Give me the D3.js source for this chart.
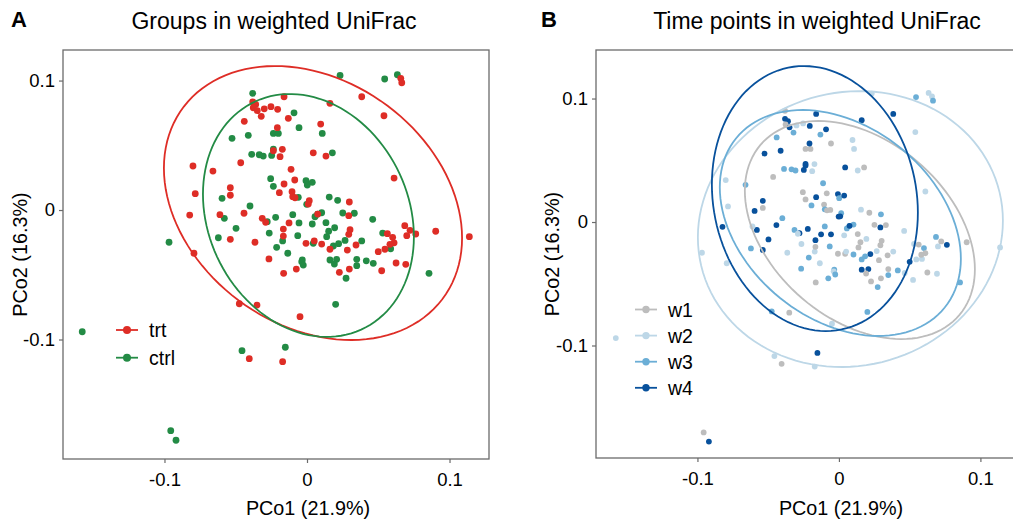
<!DOCTYPE html>
<html>
<head>
<meta charset="utf-8">
<script src="https://cdn.jsdelivr.net/npm/d3@7"></script>
<style>
  body { margin: 0; background: #fff; }
  text { font-family: "Liberation Sans", Arial, sans-serif; fill: #000; }
</style>
</head>
<body>
<div id="canvas"></div>
<script>
// sample scores on the first two principal coordinates (weighted UniFrac)
var pco1 = [
  -0.0381,-0.0526,-0.0412,-0.0236,-0.0201,-0.0388,-0.0335,-0.0307,-0.0248,-0.0236,
  -0.0255,-0.0236,-0.0596,-0.0400,-0.0580,-0.0498,-0.0265,-0.0220,-0.0279,-0.0622,
  -0.0968,-0.0213, 0.0232, 0.0545, 0.0634,-0.0091,-0.0056, 0.0107, 0.0178,-0.0007,
   0.0002, 0.0037,-0.0061, 0.0156, 0.0215,-0.0002, 0.0251, 0.0332, 0.0103, 0.0075,
   0.0056,-0.0100, 0.0461,-0.0056, 0.0037, 0.0133, 0.0194, 0.0152, 0.0138,-0.0065,
   0.0531,-0.0171, 0.0044, 0.0222, 0.0185, 0.0384,-0.0135, 0.0587,-0.0033,-0.0037,
  -0.0026, 0.0161, 0.0208, 0.0192, 0.0349, 0.0349, 0.0416, 0.0465, 0.0274, 0.0856,
   0.0201,-0.0152,-0.1577,-0.0456,-0.0956,-0.0919, 0.0267,
  // trt
  -0.0381,-0.0360,-0.0377,-0.0349,-0.0321,-0.0300,-0.0253,-0.0206,-0.0440,-0.0208,
  -0.0236,-0.0189,-0.0465,-0.0800,-0.0660,-0.0538,-0.0538,-0.0784,-0.0823,-0.0611,
  -0.0442,-0.0314,-0.0290,-0.0194,-0.0538,-0.0365,-0.0793,-0.0267, 0.0658, 0.0665,
   0.0384,-0.0161, 0.0161, 0.0540,-0.0131, 0.0096,-0.0173, 0.0044, 0.0133,-0.0112,
  -0.0086,-0.0161, 0.0611,-0.0105,-0.0100,-0.0084, 0.0016, 0.0009, 0.0297, 0.0075,
   0.0293,-0.0126,-0.0166,-0.0166, 0.0302, 0.0293, 0.0686, 0.0723, 0.0700, 0.0763,
   0.0903, 0.1139, 0.0564, 0.0601, 0.0611, 0.0582,-0.0007, 0.0051, 0.0103, 0.0161,
   0.0283, 0.0344, 0.0500, 0.0547,-0.0475,-0.0351,-0.0405,-0.0164,-0.0075, 0.0227,
   0.0297, 0.0524, 0.0625, 0.0693,-0.0049,-0.0171
];
var pco2 = [
   0.0901, 0.0554, 0.0577, 0.0592, 0.0592, 0.0430, 0.0427, 0.0417, 0.0422, 0.0471,
   0.0242, 0.0183, 0.0090, 0.0031,-0.0064,-0.0141,-0.0178,-0.0056,-0.0090,-0.0214,
  -0.0249,-0.0288, 0.1040, 0.1012, 0.1045, 0.0751, 0.0636, 0.0592, 0.0442, 0.0226,
   0.0193, 0.0214, 0.0098, 0.0100, 0.0075, 0.0044,-0.0023,-0.0025,-0.0021,-0.0031,
  -0.0052,-0.0036,-0.0072,-0.0100,-0.0108,-0.0098,-0.0137,-0.0164,-0.0206,-0.0198,
  -0.0178,-0.0239,-0.0257,-0.0260,-0.0278,-0.0239,-0.0334,-0.0299,-0.0386,-0.0399,
  -0.0425,-0.0386,-0.0381,-0.0417,-0.0381,-0.0430,-0.0392,-0.0412,-0.0527,-0.0489,
  -0.0728,-0.1060,-0.0940,-0.1086,-0.1704,-0.1778,-0.0235,
  // trt
   0.0836, 0.0816, 0.0790, 0.0767, 0.0724, 0.0782, 0.0798, 0.0778, 0.0685, 0.0636,
   0.0458, 0.0412, 0.0365, 0.0340, 0.0301, 0.0172, 0.0114, 0.0126,-0.0039,-0.0036,
  -0.0025,-0.0064,-0.0095, 0.0134,-0.0226,-0.0249,-0.0334,-0.0378, 0.1017, 0.0983,
   0.0875, 0.0875, 0.0824, 0.0728, 0.0708, 0.0664, 0.0469, 0.0442, 0.0417, 0.0314,
   0.0232, 0.0201, 0.0247, 0.0141, 0.0103, 0.0095, 0.0072, 0.0046, 0.0062,-0.0031,
  -0.0044,-0.0100,-0.0147,-0.0201,-0.0152,-0.0188,-0.0121,-0.0157,-0.0198,-0.0185,
  -0.0164,-0.0206,-0.0183,-0.0211,-0.0253,-0.0265,-0.0257,-0.0239,-0.0263,-0.0303,
  -0.0309,-0.0270,-0.0322,-0.0303,-0.0724,-0.0734,-0.1148,-0.0489,-0.0456,-0.0481,
  -0.0456,-0.0469,-0.0409,-0.0419,-0.0824,-0.1171
];
var nCtrl = 77;
var group = pco1.map(function(d, i) { return i < nCtrl ? "ctrl" : "trt"; });
var week = [
  "w1","w4","w4","w1","w1","w3","w3","w3","w4","w4",
  "w1","w1","w4","w3","w4","w4","w2","w4","w4","w3",
  "w2","w3","w2","w3","w2","w4","w1","w2","w1","w4",
  "w3","w4","w1","w2","w1","w4","w1","w1","w3","w3",
  "w3","w3","w2","w4","w2","w1","w2","w1","w1","w3",
  "w2","w2","w1","w4","w3","w2","w2","w2","w3","w2",
  "w3","w4","w4","w1","w1","w3","w3","w2","w3","w3",
  "w3","w4","w2","w2","w1","w4","w2",
  // trt
  "w4","w4","w1","w4","w3","w2","w2","w4","w3","w4",
  "w4","w2","w1","w2","w3","w4","w1","w2","w4","w2",
  "w4","w3","w2","w3","w4","w2","w2","w3","w2","w3",
  "w4","w4","w4","w2","w3","w2","w2","w4","w2","w3",
  "w1","w4","w2","w1","w3","w1","w3","w4","w3","w4",
  "w4","w4","w4","w1","w1","w1","w3","w1","w2","w4",
  "w1","w2","w1","w3","w1","w1","w1","w2","w3","w3",
  "w1","w1","w4","w2","w3","w1","w1","w1","w3","w1",
  "w1","w2","w1","w2","w2","w2"
];

var groups = ["trt", "ctrl"];
var groupColors = ["#de2d26", "#238b45"];
var weeks = ["w1", "w2", "w3", "w4"];
var weekColors = ["#bdbdbd", "#bdd7e7", "#6baed6", "#08519c"];

// 95% ellipses: centre, half extents on each axis, and x-y coupling
var groupEllipses = [
  {key: "trt",  cx: 0.0042, cy: 0.0054,  sx: 0.1046, sy: 0.1058, r: -0.255},
  {key: "ctrl", cx: 0.0010, cy: -0.0042, sx: 0.0740, sy: 0.0938, r: -0.175}
];
var weekEllipses = [
  {key: "w1", cx: 0.0148,  cy: -0.0065, sx: 0.0813, sy: 0.0883, r: -0.36},
  {key: "w2", cx: 0.0081,  cy: -0.0057, sx: 0.1078, sy: 0.1117, r: 0.06},
  {key: "w3", cx: 0.0010,  cy: -0.0008, sx: 0.0852, sy: 0.0915, r: -0.316},
  {key: "w4", cx: -0.0170, cy: 0.0190,  sx: 0.0728, sy: 0.1073, r: -0.106}
];

var xTicks = [-0.1, 0, 0.1];
var yTicks = [-0.1, 0, 0.1];
var tickFmt = function(v) { return v === 0 ? "0" : String(v); };

var samples = pco1.map(function(d, i) {
  return {x: d, y: pco2[i], group: group[i], week: week[i]};
});

var width = 1013, height = 519;
var svg = d3.select("#canvas").append("svg")
  .attr("width", width)
  .attr("height", height);

var axisColor = "#6b6b6b";

function drawPanel(opt) {
  var x = d3.scaleLinear().domain(opt.xDomain).range([opt.left, opt.left + opt.w]);
  var y = d3.scaleLinear().domain(opt.yDomain).range([opt.top + opt.h, opt.top]);
  var g = svg.append("g");

  // points
  g.selectAll("circle.pt")
    .data(samples)
    .enter()
    .append("circle")
    .attr("class", "pt")
    .attr("cx", function(d) { return x(d.x); })
    .attr("cy", function(d) { return y(d.y); })
    .attr("r", opt.r)
    .style("fill", function(d) { return opt.color(d[opt.field]); });

  // ellipses
  var line = d3.line()
    .x(function(p) { return x(p[0]); })
    .y(function(p) { return y(p[1]); });
  var ts = d3.range(0, 361, 3).map(function(a) { return a * Math.PI / 180; });
  g.selectAll("path.ell")
    .data(opt.ellipses)
    .enter()
    .append("path")
    .attr("class", "ell")
    .attr("d", function(e) {
      var k = Math.sqrt(1 - e.r * e.r);
      return line(ts.map(function(t) {
        return [e.cx + e.sx * Math.cos(t), e.cy + e.sy * (e.r * Math.cos(t) + k * Math.sin(t))];
      }));
    })
    .style("fill", "none")
    .style("stroke", function(e) { return opt.color(e.key); })
    .style("stroke-width", 1.8);

  // frame
  g.append("rect")
    .attr("x", opt.left).attr("y", opt.top)
    .attr("width", opt.w).attr("height", opt.h)
    .style("fill", "none")
    .style("stroke", axisColor)
    .style("stroke-width", 1.3);

  // axes
  var xAxis = d3.axisBottom(x).tickValues(xTicks).tickFormat(tickFmt).tickSize(4).tickPadding(10);
  var yAxis = d3.axisLeft(y).tickValues(yTicks).tickFormat(tickFmt).tickSize(4).tickPadding(4);
  var gx = g.append("g").attr("transform", "translate(0," + (opt.top + opt.h) + ")").call(xAxis);
  var gy = g.append("g").attr("transform", "translate(" + opt.left + ",0)").call(yAxis);
  [gx, gy].forEach(function(a) {
    a.select(".domain").remove();
    a.selectAll("line").style("stroke", axisColor).style("stroke-width", 1.2);
    a.selectAll("text").style("font-size", "18.5px").style("fill", "#000")
      .style("font-family", '"Liberation Sans", Arial, sans-serif');
  });

  // titles
  svg.append("text")
    .attr("x", opt.titleX).attr("y", 29)
    .attr("text-anchor", "middle")
    .style("font-size", "23px")
    .text(opt.title);
  svg.append("text")
    .attr("x", opt.letterX).attr("y", 27)
    .style("font-size", "22px").style("font-weight", "bold")
    .text(opt.letter);
  svg.append("text")
    .attr("x", opt.left + 245).attr("y", 515)
    .attr("text-anchor", "middle")
    .style("font-size", "19.8px")
    .text("PCo1 (21.9%)");
  svg.append("text")
    .attr("transform", "translate(" + opt.yLabX + "," + (opt.top + opt.h / 2) + ") rotate(-90)")
    .attr("text-anchor", "middle")
    .style("font-size", "19.8px")
    .text("PCo2 (16.3%)");

  // legend
  var lg = svg.append("g");
  var items = lg.selectAll("g")
    .data(opt.legendKeys)
    .enter()
    .append("g")
    .attr("transform", function(d, i) { return "translate(" + opt.legX + "," + (opt.legY + i * opt.legStep) + ")"; });
  items.append("line")
    .attr("x1", -11).attr("x2", 11)
    .style("stroke", function(d) { return opt.color(d); })
    .style("stroke-width", 1.8);
  items.append("circle")
    .attr("r", opt.legR)
    .style("fill", function(d) { return opt.color(d); });
  items.append("text")
    .attr("x", 22).attr("y", 7)
    .style("font-size", "19.5px")
    .text(function(d) { return d; });
}

var groupColor = d3.scaleOrdinal().domain(groups).range(groupColors);
var weekColor = d3.scaleOrdinal().domain(weeks).range(weekColors);

drawPanel({
  left: 63, top: 50, w: 426, h: 409,
  xDomain: [-0.1712, 0.1277], yDomain: [-0.1923, 0.1236],
  field: "group", color: groupColor, r: 3.4,
  ellipses: groupEllipses,
  title: "Groups in weighted UniFrac", titleX: 274, letter: "A", letterX: 11, yLabX: 27,
  legendKeys: groups, legX: 127, legY: 330, legStep: 27.7, legR: 4
});

drawPanel({
  left: 596, top: 50, w: 426, h: 408,
  xDomain: [-0.1717, 0.1294], yDomain: [-0.1911, 0.1393],
  field: "week", color: weekColor, r: 2.9,
  ellipses: weekEllipses,
  title: "Time points in weighted UniFrac", titleX: 817, letter: "B", letterX: 541, yLabX: 559,
  legendKeys: weeks, legX: 646, legY: 309.5, legStep: 26.1, legR: 3.7
});
</script>
</body>
</html>
